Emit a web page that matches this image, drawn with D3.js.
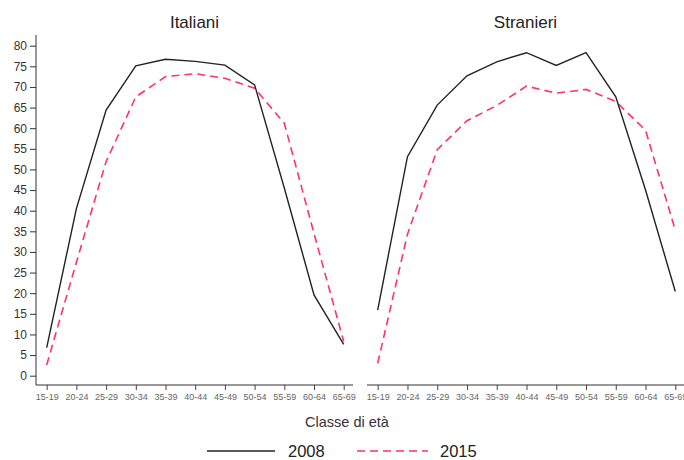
<!DOCTYPE html>
<html><head><meta charset="utf-8">
<script src="https://cdn.jsdelivr.net/npm/d3@7"></script>
<style>body{margin:0;background:#fff}svg{display:block;font-family:"Liberation Sans",Arial,sans-serif}</style>
</head><body><svg id="c" width="684" height="460"></svg>
<script>
const categories = ["15-19","20-24","25-29","30-34","35-39","40-44","45-49","50-54","55-59","60-64","65-69"];
const yTicks = [0,5,10,15,20,25,30,35,40,45,50,55,60,65,70,75,80];
const panels = ["Italiani","Stranieri"];
const years = ["2008","2015"];
const italiani2008 = [6.8,40.5,64.4,75.1,76.7,76.2,75.3,70.5,45.5,19.6,7.6];
const italiani2015 = [2.6,27.5,51.9,67.6,72.5,73.2,72.1,69.7,61.2,34.5,8.3];
const stranieri2008 = [15.9,53.1,65.6,72.7,76.1,78.3,75.2,78.3,67.6,45,20.4];
const stranieri2015 = [3.0,34.3,54.8,61.8,65.5,70.2,68.5,69.4,66.5,59.5,35.3];

const svg = d3.select("#c");
const y = d3.scaleLinear().domain([0,80]).range([375.7,45.7]);
const xL = d3.scalePoint().domain(categories).range([46.7,343.7]);
const xR = d3.scalePoint().domain(categories).range([377.7,675.3]);
const axisY = 385;

// y axis
const gy = svg.append("g").attr("transform","translate(36,0)")
  .call(d3.axisLeft(y).tickValues(yTicks).tickSize(6).tickPadding(3));
gy.select(".domain").remove();
gy.selectAll("line").attr("stroke","#333");
gy.selectAll("text").attr("font-size","12px").attr("fill","#333").attr("font-family","Liberation Sans, Arial, sans-serif");
svg.append("line").attr("x1",36).attr("x2",36).attr("y1",35).attr("y2",axisY).attr("stroke","#333").attr("stroke-width",1);

function panel(x, title, s08, s15, x0, x1){
  const gx = svg.append("g").attr("transform",`translate(0,${axisY})`)
    .call(d3.axisBottom(x).tickSize(5).tickPadding(4));
  gx.select(".domain").remove();
  gx.selectAll("line").attr("stroke","#444");
  gx.selectAll("text").attr("font-size","9px").attr("fill","#666").attr("font-family","Liberation Sans, Arial, sans-serif");
  svg.append("line").attr("x1",x0).attr("x2",x1).attr("y1",axisY).attr("y2",axisY).attr("stroke","#333");
  svg.append("text").attr("x",(x0+x1)/2).attr("y",28).attr("text-anchor","middle")
    .attr("font-size","17px").attr("fill","#222").text(title);
  const line = d3.line().x((d,i)=>x(categories[i])).y(d=>y(d));
  svg.append("path").datum(s15).attr("d",line).attr("fill","none")
    .attr("stroke","#ff3366").attr("stroke-width",1.6).attr("stroke-dasharray","8,5");
  svg.append("path").datum(s08).attr("d",line).attr("fill","none")
    .attr("stroke","#222").attr("stroke-width",1.4);
}
panel(xL, panels[0], italiani2008, italiani2015, 36, 353);
panel(xR, panels[1], stranieri2008, stranieri2015, 367, 684);

svg.append("text").attr("x",347).attr("y",427).attr("text-anchor","middle")
  .attr("font-size","14.5px").attr("fill","#333").text("Classe di età");

// legend
const lg = svg.append("g");
lg.append("line").attr("x1",207).attr("x2",275).attr("y1",451).attr("y2",451).attr("stroke","#222").attr("stroke-width",1.4);
lg.append("text").attr("x",288).attr("y",456.5).attr("font-size","16.5px").attr("fill","#222").text(years[0]);
lg.append("line").attr("x1",357).attr("x2",428).attr("y1",451).attr("y2",451).attr("stroke","#ff3366").attr("stroke-width",1.6).attr("stroke-dasharray","8,5");
lg.append("text").attr("x",440).attr("y",456.5).attr("font-size","16.5px").attr("fill","#222").text(years[1]);
</script></body></html>
